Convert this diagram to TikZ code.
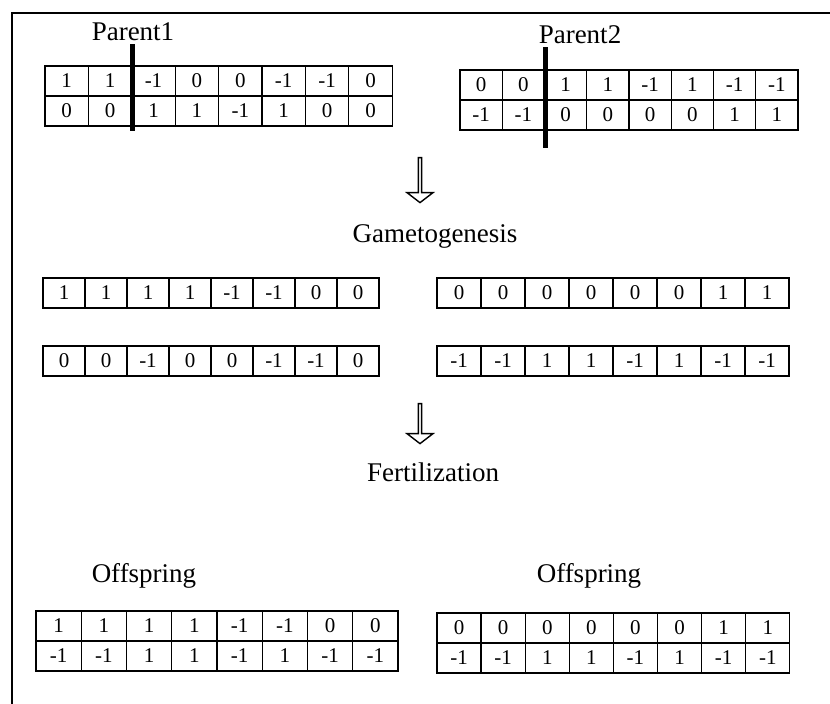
\documentclass[tikz,border=0pt]{standalone}
\usepackage{fontspec}
\setmainfont{Liberation Serif}
\usetikzlibrary{calc,shapes.arrows}

% one row of eight gene cells: name, left x, top y, cell width, values
\newcommand{\generow}[5]{%
  \foreach \v [count=\i] in {#5}
    \node[cell, minimum width=#4pt] (#1-\i) at ({#2+(\i-0.5)*#4}, {#3+15}) {\v};}

\begin{document}
\begin{tikzpicture}[x=1pt, y=-1pt,
      cell/.style={draw, line width=1.3pt, minimum height=30pt, inner sep=0pt,
                   font=\fontsize{21}{21}\selectfont},          % one gene
      lbl/.style={anchor=base, font=\fontsize{27}{27}\selectfont}, % stage titles
      cut/.style={line width=5pt},                                 % crossover point
      flow/.style={single arrow, draw, line width=1.4pt, rotate=-90, inner sep=0pt,
                   minimum width=26pt, single arrow head extend=5pt,
                   single arrow tip angle=105},                     % hollow arrow
      frame/.style={line width=2pt}]
    \useasboundingbox (0,0) rectangle (830,704);
    \draw[frame] (830,13) -- (12,13) -- (12,704);
    % parents
    \node[lbl] (par1) at (133,40) {Parent1};
    \node[lbl] (par2) at (580,43) {Parent2};
    \generow{p1a}{45}{66}{43.4}{1,1,-1,0,0,-1,-1,0}
    \generow{p1b}{45}{96}{43.4}{0,0,1,1,-1,1,0,0}
    \generow{p2a}{460}{70}{42.25}{0,0,1,1,-1,1,-1,-1}
    \generow{p2b}{460}{100}{42.25}{-1,-1,0,0,0,0,1,1}
    \draw[cut] ($(p1a-2.north east)+(0,-21)$) -- ($(p1b-2.south east)+(0,4)$);
    \draw[cut] ($(p2a-2.north east)+(0,-22)$) -- ($(p2b-2.south east)+(0,17)$);
    % gametogenesis
    \node[flow, minimum height=45pt] (arr1) at (420,179.5) {};
    \node[lbl] (gam) at (435,242) {Gametogenesis};
    \generow{ga}{43}{278}{42}{1,1,1,1,-1,-1,0,0}
    \generow{gb}{437}{278}{44}{0,0,0,0,0,0,1,1}
    \generow{gc}{43}{346}{42}{0,0,-1,0,0,-1,-1,0}
    \generow{gd}{437}{346}{44}{-1,-1,1,1,-1,1,-1,-1}
    % fertilization
    \node[flow, minimum height=40pt] (arr2) at (420,423) {};
    \node[lbl] (fer) at (433,481) {Fertilization};
    % offspring
    \node[lbl] (off1) at (144,582) {Offspring};
    \node[lbl] (off2) at (589,582) {Offspring};
    \generow{o1a}{36}{611}{45.25}{1,1,1,1,-1,-1,0,0}
    \generow{o1b}{36}{641}{45.25}{-1,-1,1,1,-1,1,-1,-1}
    \generow{o2a}{437}{613}{44.1}{0,0,0,0,0,0,1,1}
    \generow{o2b}{437}{643}{44.1}{-1,-1,1,1,-1,1,-1,-1}
\end{tikzpicture}
\end{document}
